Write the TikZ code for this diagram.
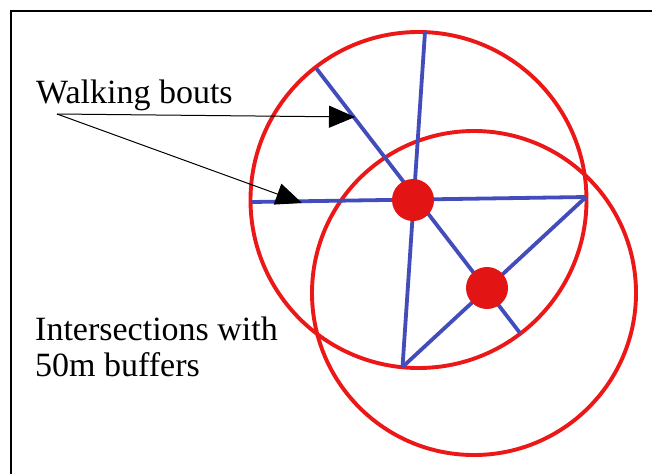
\documentclass[tikz,border=0pt]{standalone}
\usepackage{fontspec}
\setmainfont{Liberation Serif}
\newfontfamily\lblfont{Liberation Serif}
\usetikzlibrary{arrows.meta}
\definecolor{bufred}{RGB}{236,24,24}
\definecolor{dotred}{RGB}{226,20,20}
\definecolor{boutblue}{RGB}{66,76,187}
\tikzset{
  buffer/.style={draw=bufred, line width=3.9pt},
  bout/.style={draw=boutblue, line width=3.8pt},
  dotnode/.style={circle, fill=dotred, inner sep=0pt, minimum size=42pt},
  lbl/.style={anchor=base west, inner sep=0pt, font=\lblfont\fontsize{34}{37}\selectfont},
  pointer/.style={draw=black, line width=1pt, -{Triangle[length=26pt,width=22pt]}},
}
\begin{document}
\begin{tikzpicture}[x=1pt,y=-1pt]
\useasboundingbox (0,0) rectangle (652,474);
\fill[white] (0,0) rectangle (652,474);
% frame (open to the right and bottom)
\draw[line width=2.2pt] (11,474) -- (11,11) -- (652,11);
% buffers
\draw[buffer] (418.5,200) circle[radius=168];
\draw[buffer] (474,293) circle[radius=162];
% walking bouts
\coordinate (top) at (425,32);
\coordinate (bot) at (402.5,367);
\coordinate (ul) at (316,68);
\coordinate (lr) at (520,333);
\coordinate (lft) at (251.5,202);
\coordinate (rgt) at (586,197);
\draw[bout] (top) -- (bot);
\draw[bout] (ul) -- (lr);
\draw[bout] (lft) -- (rgt);
\draw[bout] (rgt) -- (bot);
% intersections
\node[dotnode] (i1) at (413,200) {};
\node[dotnode] (i2) at (487,288) {};
% labels
\node[lbl] (wb) at (36,103) {Walking bouts};
\node[lbl] (is1) at (35,340) {Intersections with};
\node[lbl] (is2) at (35,376) {50m buffers};
% pointers
\coordinate (src) at (57,114);
\coordinate (t1) at (355,117);
\coordinate (t2) at (302,203);
\draw[pointer] (src) -- (t1);
\draw[pointer] (src) -- (t2);
\end{tikzpicture}
\end{document}
